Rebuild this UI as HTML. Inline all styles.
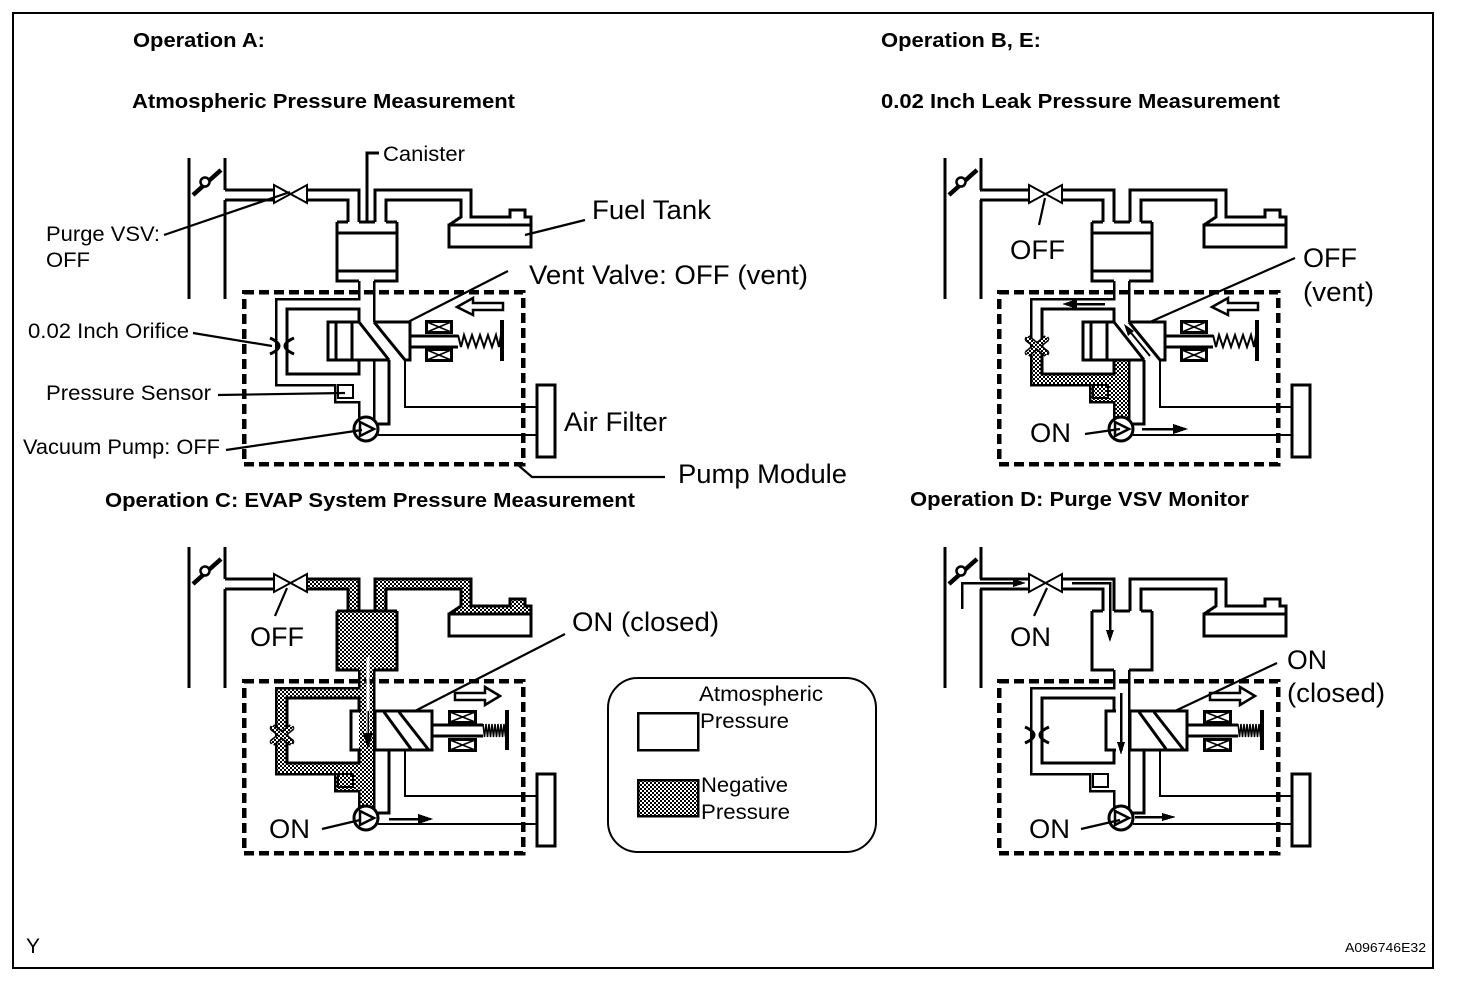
<!DOCTYPE html>
<html><head><meta charset="utf-8"><style>
html,body{margin:0;padding:0;background:#fff}
svg{display:block}
text{font-family:"Liberation Sans",sans-serif;fill:#000}
.b{font-weight:bold;font-size:20.5px}
.m{font-size:21px}
.l{font-size:27px}
</style></head><body>
<svg width="1472" height="992" viewBox="0 0 1472 992" xmlns="http://www.w3.org/2000/svg" shape-rendering="crispEdges">
<defs>
<pattern id="neg" width="4" height="4" patternUnits="userSpaceOnUse">
<rect width="4" height="4" fill="#fff"/><rect width="2" height="2" fill="#000"/><rect x="2" y="2" width="2" height="2" fill="#000"/>
</pattern>
<g id="intake" fill="none" stroke="#000" stroke-width="3">
<path d="M189,158V299M225,158V190M225,200V299"/>
<path d="M193,195L221,170" stroke-width="4.500" shape-rendering="auto"/>
<circle cx="205" cy="182" r="4.500" fill="#fff" stroke-width="2.500" shape-rendering="auto"/>
</g>
<g id="pipes" fill="none" stroke="#000" stroke-width="3">
<path d="M225,190H276M225,200H276M307,190H359V222M307,200H348V222"/>
<path d="M274,185L307,203V185L274,203Z" fill="#fff" stroke-width="2" shape-rendering="auto"/>
<path d="M337,222H348M359,222H375M386,222H397M337,222V281H359M374,281H397V222"/>
<path d="M375,222V190H471V217H510V210H525V217H531V247H449V225H531M386,222V200H461V217L449,225"/>
<path d="M359,281V299H276V385H335V402H359V420" stroke-width="2.500"/>
<path d="M359,322V309H287V374H359V360"/>
<path d="M374,281V322M374,360V423" stroke-width="2.500"/>
<path d="M389,360V424H378"/>
<path d="M405,360V407H537M378,435H537" stroke-width="2"/>
<path d="M338,385H353V398H338Z" stroke-width="2"/>
<rect x="537" y="385" width="18" height="72" fill="#fff"/>
<rect x="244" y="292" width="279" height="172" stroke-width="4.500" stroke-dasharray="10 5"/>
<path d="M270,338Q288,346 270,354M294,338Q276,346 294,354" stroke-width="3" shape-rendering="auto"/>
<circle cx="366" cy="429" r="12" fill="#fff" shape-rendering="auto"/>
<path d="M360,422L374,429L360,436Z" stroke-width="2.500" shape-rendering="auto"/>
</g>
<g id="open" fill="none" stroke="#000" stroke-width="3">
<path d="M359,322H328V360H389M336,322V360M352,322V360"/>
<path d="M359,322L389,360M374,322H410V360H405L374,322" shape-rendering="auto"/>
<path d="M410,336H458M410,347H458"/>
<path d="M458,335L461,347L464,335L468,347L472,335L476,347L480,335L484,347L488,335L492,347L496,335L499,347L501,335" stroke-width="2" shape-rendering="auto"/>
<path d="M502,320V361" stroke-width="4"/>
<rect x="426.500" y="321.500" width="25" height="11"/><path d="M427,322L451,332M451,322L427,332" stroke-width="1.500" shape-rendering="auto"/>
<rect x="426.500" y="349.500" width="25" height="11"/><path d="M427,350L451,360M451,350L427,360" stroke-width="1.500" shape-rendering="auto"/>
<path d="M457,307L473,298V303H503V310H473V315Z" fill="#fff" stroke-width="2.500" shape-rendering="auto"/>
</g>
<g id="closed" fill="none" stroke="#000" stroke-width="3">
<path d="M374,322V360" stroke-width="2.500"/>
<path d="M361,322H351V361H361"/>
<rect x="375" y="322" width="57" height="39" fill="#fff"/>
<path d="M384,323L411,360M399,323L428,360" shape-rendering="auto"/>
<path d="M432,336H483M432,347H483"/>
<path d="M483,335L484.500,348L486,335L487.500,348L489,335L490.500,348L492,335L493.500,348L495,335L496.500,348L498,335L499.500,348L501,335L502.500,348L504,335L505.500,348" stroke-width="1.500" shape-rendering="auto"/>
<path d="M507,321V361" stroke-width="4"/>
<rect x="449.500" y="322.500" width="26" height="11"/><path d="M450,323L475,333M475,323L450,333" stroke-width="1.500" shape-rendering="auto"/>
<rect x="449.500" y="350.500" width="26" height="11"/><path d="M450,351L475,361M475,351L450,361" stroke-width="1.500" shape-rendering="auto"/>
<path d="M500,307L485,298V304H455V311H485V316Z" fill="#fff" stroke-width="2.500" shape-rendering="auto"/>
</g>
</defs>

<rect x="13" y="13" width="1420" height="955" fill="none" stroke="#000" stroke-width="2"/>

<!-- Panel A -->
<use href="#intake"/><use href="#pipes"/><use href="#open"/>
<g fill="none" stroke="#000" stroke-width="3">
<path d="M337,233H397M337,271H397M367,222V153H379"/>
</g>
<g fill="none" stroke="#000" stroke-width="2.200" shape-rendering="auto">
<path d="M164,235L290,192M525,235L585,220M408,322L508,271M193,333L272,346M218,395L345,393M226,450L362,430M518,465L532,477H665"/>
</g>

<!-- Panel B -->
<g transform="translate(756,0)"><use href="#intake"/></g>
<g transform="translate(755,0)">
<path d="M276,385V345H287V374H359V360H374V420H359V402H335V385Z" fill="url(#neg)"/>
<use href="#pipes"/><use href="#open"/>
<path d="M337,233H397M337,271H397" fill="none" stroke="#000" stroke-width="3"/>
<path d="M272,338L292,354M292,338L272,354" fill="none" stroke="#000" stroke-width="7" shape-rendering="auto"/>
<path d="M272,338L292,354M292,338L272,354" fill="none" stroke="url(#neg)" stroke-width="4" shape-rendering="auto"/>
<rect x="338" y="385" width="15" height="13" fill="url(#neg)" stroke="#000" stroke-width="2"/>
<path d="M372,328L395,356" fill="none" stroke="#000" stroke-width="2" shape-rendering="auto"/>
<path d="M369,324L379,331L373,336Z" fill="#000" shape-rendering="auto"/>
<path d="M312,304H350" stroke="#000" stroke-width="2.500"/><path d="M307,304L322,299V309Z" fill="#000"/>
<path d="M387,429H425" stroke="#000" stroke-width="2.500"/><path d="M433,429L418,424V434Z" fill="#000"/>
</g>
<g fill="none" stroke="#000" stroke-width="2.200" shape-rendering="auto">
<path d="M1039,225L1045,198M1150,322L1295,258M1085,434L1120,429"/>
</g>

<!-- Panel C -->
<g transform="translate(0,389)">
<use href="#intake"/>
<g fill="url(#neg)">
<path d="M307,190H359V222H348V200H307Z"/>
<path d="M375,222V190H471V217H510V210H525V217H531V225H449L461,217V200H386V222Z"/>
<rect x="337" y="222" width="60" height="59"/>
<rect x="359" y="281" width="15" height="143"/>
<path d="M276,299H359V309H287V374H359V385H276Z"/>
<path d="M335,385H359V402H335Z"/>
</g>
<use href="#pipes"/>
<path d="M337,222H397" stroke="#000" stroke-width="3"/>
<rect x="338" y="385" width="15" height="13" fill="url(#neg)" stroke="#000" stroke-width="2"/>
<path d="M272,338L292,354M292,338L272,354" fill="none" stroke="#000" stroke-width="7" shape-rendering="auto"/>
<path d="M272,338L292,354M292,338L272,354" fill="none" stroke="url(#neg)" stroke-width="4" shape-rendering="auto"/>
<use href="#closed"/>
<path d="M368,268V345" stroke="#fff" stroke-width="3"/>
<path d="M368,322V346" stroke="#000" stroke-width="1.500"/><path d="M368,360L363,344H373Z" fill="#000"/>
<path d="M389,430H425" stroke="#000" stroke-width="2.500"/><path d="M433,430L418,425V435Z" fill="#000"/>
</g>
<g fill="none" stroke="#000" stroke-width="2.200" shape-rendering="auto">
<path d="M275,616L287,588M415,711L565,634M322,829L360,820"/>
</g>

<!-- Panel D -->
<g transform="translate(756,389)"><use href="#intake"/></g>
<g transform="translate(755,389)">
<use href="#pipes"/><use href="#closed"/>
</g>
<g fill="none" stroke="#000" stroke-width="2.500">
<path d="M962,609V583H1015M1072,583H1110V632M1121,693V744M1135,817H1165"/>
</g>
<g fill="#000">
<path d="M1026,583L1013,579V587Z"/><path d="M1110,642L1106,630H1114Z"/><path d="M1121,755L1117,742H1125Z"/><path d="M1176,817L1162,813V821Z"/>
</g>
<g fill="none" stroke="#000" stroke-width="2.200" shape-rendering="auto">
<path d="M1034,616L1047,588M1175,711L1277,663M1081,829L1120,820"/>
</g>

<!-- Legend -->
<rect x="608" y="678" width="268" height="174" rx="30" ry="30" fill="none" stroke="#000" stroke-width="2" shape-rendering="auto"/>
<rect x="638" y="713" width="60" height="37" fill="#fff" stroke="#000" stroke-width="2.500"/>
<rect x="638" y="780" width="60" height="36" fill="url(#neg)" stroke="#000" stroke-width="2.500"/>

<!-- Text -->
<g shape-rendering="auto">
<text class="b" x="133" y="47" textLength="132" lengthAdjust="spacingAndGlyphs">Operation A:</text>
<text class="b" x="132" y="108" textLength="383" lengthAdjust="spacingAndGlyphs">Atmospheric Pressure Measurement</text>
<text class="b" x="881" y="47" textLength="160" lengthAdjust="spacingAndGlyphs">Operation B, E:</text>
<text class="b" x="881" y="108" textLength="399" lengthAdjust="spacingAndGlyphs">0.02 Inch Leak Pressure Measurement</text>
<text class="b" x="105" y="507" textLength="530" lengthAdjust="spacingAndGlyphs">Operation C: EVAP System Pressure Measurement</text>
<text class="b" x="910" y="506" textLength="339" lengthAdjust="spacingAndGlyphs">Operation D: Purge VSV Monitor</text>

<text class="m" x="383" y="161" textLength="82" lengthAdjust="spacingAndGlyphs">Canister</text>
<text class="l" x="592" y="219" textLength="119" lengthAdjust="spacingAndGlyphs">Fuel Tank</text>
<text class="m" x="46" y="241" textLength="114" lengthAdjust="spacingAndGlyphs">Purge VSV:</text>
<text class="m" x="46" y="267" textLength="44" lengthAdjust="spacingAndGlyphs">OFF</text>
<text class="l" x="529" y="284" textLength="279" lengthAdjust="spacingAndGlyphs">Vent Valve: OFF (vent)</text>
<text class="m" x="28" y="338" textLength="161" lengthAdjust="spacingAndGlyphs">0.02 Inch Orifice</text>
<text class="m" x="46" y="400" textLength="165" lengthAdjust="spacingAndGlyphs">Pressure Sensor</text>
<text class="m" x="23" y="454" textLength="197" lengthAdjust="spacingAndGlyphs">Vacuum Pump: OFF</text>
<text class="l" x="564" y="431" textLength="103" lengthAdjust="spacingAndGlyphs">Air Filter</text>
<text class="l" x="678" y="483" textLength="169" lengthAdjust="spacingAndGlyphs">Pump Module</text>

<text class="l" x="1010" y="259" textLength="55" lengthAdjust="spacingAndGlyphs">OFF</text>
<text class="l" x="1303" y="267" textLength="54" lengthAdjust="spacingAndGlyphs">OFF</text>
<text class="l" x="1303" y="301" textLength="71" lengthAdjust="spacingAndGlyphs">(vent)</text>
<text class="l" x="1030" y="442" textLength="41" lengthAdjust="spacingAndGlyphs">ON</text>

<text class="l" x="250" y="646" textLength="54" lengthAdjust="spacingAndGlyphs">OFF</text>
<text class="l" x="572" y="631" textLength="147" lengthAdjust="spacingAndGlyphs">ON (closed)</text>
<text class="l" x="269" y="838" textLength="41" lengthAdjust="spacingAndGlyphs">ON</text>

<text class="m" x="699" y="701" textLength="124" lengthAdjust="spacingAndGlyphs">Atmospheric</text>
<text class="m" x="700" y="728" textLength="89" lengthAdjust="spacingAndGlyphs">Pressure</text>
<text class="m" x="701" y="792" textLength="87" lengthAdjust="spacingAndGlyphs">Negative</text>
<text class="m" x="701" y="819" textLength="89" lengthAdjust="spacingAndGlyphs">Pressure</text>

<text class="l" x="1010" y="646" textLength="41" lengthAdjust="spacingAndGlyphs">ON</text>
<text class="l" x="1287" y="669" textLength="40" lengthAdjust="spacingAndGlyphs">ON</text>
<text class="l" x="1287" y="702" textLength="98" lengthAdjust="spacingAndGlyphs">(closed)</text>
<text class="l" x="1029" y="838" textLength="41" lengthAdjust="spacingAndGlyphs">ON</text>

<text class="m" x="26" y="953" font-size="20">Y</text>
<text x="1345" y="952" font-size="13" textLength="81" lengthAdjust="spacingAndGlyphs">A096746E32</text>
</g>
</svg>
</body></html>
